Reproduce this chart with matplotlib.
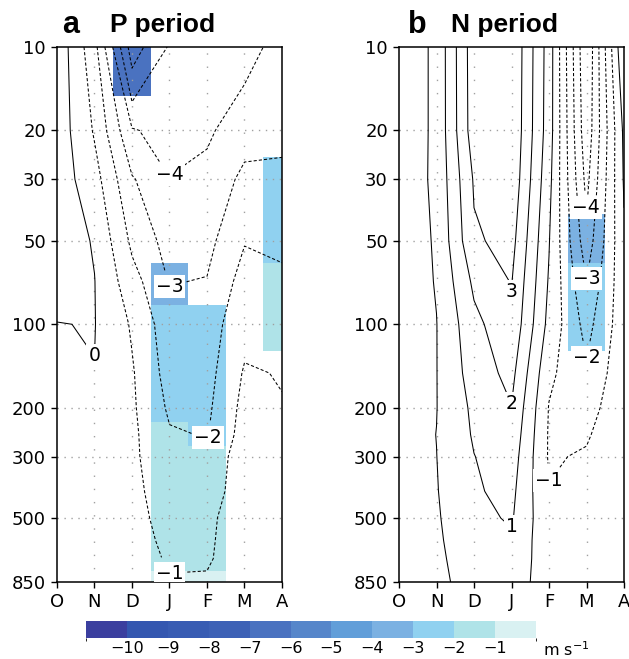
import numpy as np
import matplotlib
matplotlib.use('Agg')
import matplotlib.pyplot as plt
import matplotlib.cm as cm
from matplotlib.colors import ListedColormap, BoundaryNorm
from matplotlib.ticker import NullLocator

months = ['O', 'N', 'D', 'J', 'F', 'M', 'A']
levels = [10, 20, 30, 50, 70, 100, 150, 200, 250, 300, 400, 500, 600, 700, 850]
ytick_vals = [10, 20, 30, 50, 100, 200, 300, 500, 850]

# zonal wind anomaly (m/s), rows = pressure levels, cols = months
u_p = [
    [0.7, -1.66, -6.5, -4.9, -4.7, -4.4, -3.6],
    [0.6, -1.1, -3.9, -4.4, -4.2, -3.3, -3.2],
    [0.55, -0.6, -2.9, -3.95, -3.6, -2.8, -2.8],
    [0.5, -0.07, -2.2, -3.4, -3.3, -2.05, -2.2],
    [0.3, 0.02, -1.6, -3.05, -2.95, -1.6, -1.8],
    [-0.02, 0.03, -1.1, -2.6, -2.5, -1.3, -1.4],
    [-0.2, -0.02, -0.9, -2.4, -2.35, -0.9, -1.05],
    [-0.25, -0.2, -0.85, -2.15, -2.2, -0.7, -0.95],
    [-0.3, -0.25, -0.8, -1.9, -2.05, -0.6, -0.85],
    [-0.3, -0.3, -0.8, -1.75, -1.85, -0.35, -0.75],
    [-0.3, -0.35, -0.7, -1.6, -1.6, -0.35, -0.7],
    [-0.3, -0.35, -0.6, -1.45, -1.25, -0.35, -0.6],
    [-0.25, -0.3, -0.5, -1.3, -1.2, -0.3, -0.5],
    [-0.2, -0.25, -0.4, -1.15, -1.15, -0.25, -0.4],
    [-0.1, -0.2, -0.3, -0.9, -0.85, -0.2, -0.3],
]
sig_p = [
    [0, 0, 1, 0, 0, 0, 0],
    [0, 0, 0, 0, 0, 0, 0],
    [0, 0, 0, 0, 0, 0, 1],
    [0, 0, 0, 0, 0, 0, 1],
    [0, 0, 0, 1, 0, 0, 1],
    [0, 0, 0, 1, 1, 0, 1],
    [0, 0, 0, 1, 1, 0, 0],
    [0, 0, 0, 1, 1, 0, 0],
    [0, 0, 0, 1, 1, 0, 0],
    [0, 0, 0, 1, 1, 0, 0],
    [0, 0, 0, 1, 1, 0, 0],
    [0, 0, 0, 1, 1, 0, 0],
    [0, 0, 0, 1, 1, 0, 0],
    [0, 0, 0, 1, 1, 0, 0],
    [0, 0, 0, 1, 1, 0, 0],
]
u_n = [
    [-0.7, 0.2, 3.6, 3.95, 0.55, -4.95, 0.95],
    [-0.7, 0.2, 3.55, 3.9, 0.5, -4.7, 0.2],
    [-0.65, 0.2, 3.1, 3.75, 0.3, -4.3, 0.1],
    [-0.6, 0.1, 2.85, 3.35, 0.05, -3.6, -0.15],
    [-0.55, 0.05, 2.2, 3.05, -0.1, -2.95, -0.3],
    [-0.5, -0.02, 1.7, 2.8, -0.3, -2.35, -0.4],
    [-0.5, -0.02, 1.45, 2.3, -0.8, -1.8, -0.35],
    [-0.45, -0.02, 1.2, 1.95, -1.05, -1.4, -0.3],
    [-0.45, 0.01, 1.1, 1.7, -1.1, -1.1, -0.3],
    [-0.45, -0.01, 0.98, 1.5, -1.1, -0.9, -0.3],
    [-0.45, -0.05, 0.9, 1.25, -0.95, -0.7, -0.3],
    [-0.45, -0.1, 0.75, 1.1, -0.8, -0.55, -0.3],
    [-0.45, -0.15, 0.65, 0.85, -0.7, -0.45, -0.25],
    [-0.4, -0.2, 0.55, 0.7, -0.6, -0.4, -0.25],
    [-0.4, -0.3, 0.5, 0.5, -0.5, -0.3, -0.2],
]
sig_n = [
    [0, 0, 0, 0, 0, 0, 0],
    [0, 0, 0, 0, 0, 0, 0],
    [0, 0, 0, 0, 0, 0, 0],
    [0, 0, 0, 0, 0, 1, 0],
    [0, 0, 0, 0, 0, 1, 0],
    [0, 0, 0, 0, 0, 1, 0],
    [0, 0, 0, 0, 0, 0, 0],
    [0, 0, 0, 0, 0, 0, 0],
    [0, 0, 0, 0, 0, 0, 0],
    [0, 0, 0, 0, 0, 0, 0],
    [0, 0, 0, 0, 0, 0, 0],
    [0, 0, 0, 0, 0, 0, 0],
    [0, 0, 0, 0, 0, 0, 0],
    [0, 0, 0, 0, 0, 0, 0],
    [0, 0, 0, 0, 0, 0, 0],
]

shade_colors = ['#3b3f9f', '#3457b0', '#385cb3', '#3d61b6', '#4a72c0', '#5686ca',
                '#619ed9', '#7bb1e2', '#90d1f0', '#afe3e8', '#d9f1f2']
shade_bounds = list(range(-11, 1))
cbar_ticks = list(range(-10, 0))

cmap = ListedColormap(shade_colors)
norm = BoundaryNorm(shade_bounds, cmap.N)

x = np.arange(len(months))
p = np.array(levels, dtype=float)
xe = np.arange(len(months) + 1) - 0.5
pe = np.concatenate([[p[0]], (p[1:] + p[:-1]) / 2, [p[-1]]])


def fmt(v):
    return f'{v:.0f}'.replace('-', '\u2212')


def panel(ax, u, sig, neg_lv, pos_lv, neg_pts, pos_pts):
    u = np.array(u)
    sig = np.array(sig)
    ax.set_yscale('log')
    ax.set_ylim(850, 10)
    ax.set_xlim(0, 6)
    ax.pcolormesh(xe, pe, np.ma.masked_where(sig == 0, u), cmap=cmap, norm=norm, zorder=1)

    for m in range(1, 6):
        ax.axvline(m, color='#a0a0a0', lw=1, ls=(0, (1, 8.5)), zorder=2)
    for v in ytick_vals[1:-1]:
        ax.axhline(v, color='#a0a0a0', lw=1, ls=(0, (1, 4)), zorder=2)

    cn = ax.contour(x, p, u, levels=neg_lv, colors='k', linewidths=0.75, zorder=3)
    cn.set_linestyle((0, (3, 2)))
    cp = ax.contour(x, p, u, levels=pos_lv, colors='k', linewidths=0.75, zorder=3)

    # label placement: nearest contour to each point
    labs = []
    if neg_pts:
        labs += ax.clabel(cn, manual=neg_pts, inline=True, inline_spacing=4, fmt=fmt, fontsize=13.5)
    if pos_pts:
        labs += ax.clabel(cp, manual=pos_pts, inline=True, inline_spacing=4, fmt=fmt, fontsize=13.5)
    for t in labs:
        t.set_rotation(0)
        t.set_bbox(dict(facecolor='white', edgecolor='none', pad=1.5))
        t.set_zorder(4)

    ax.set_xticks(x)
    ax.set_xticklabels(months)
    ax.set_yticks(ytick_vals)
    ax.set_yticklabels([str(v) for v in ytick_vals])
    ax.yaxis.set_minor_locator(NullLocator())
    ax.tick_params(direction='out', length=4, width=1, labelsize=13, pad=4)
    for s in ax.spines.values():
        s.set_linewidth(1.1)


fig = plt.figure(figsize=(6.29, 6.59), dpi=100)
ax1 = fig.add_axes([57 / 629, 1 - 582 / 659, 225 / 629, 535 / 659])
ax2 = fig.add_axes([399 / 629, 1 - 582 / 659, 225 / 629, 535 / 659])

panel(ax1, u_p, sig_p, [-7, -6, -5, -4, -3, -2, -1], [0, 1, 2, 3],
      [(3.0, 30), (3.0, 74), (4.0, 255), (3.0, 790)],
      [(1.0, 135)])
panel(ax2, u_n, sig_n, [-5, -4, -3, -2, -1], [0, 1, 2, 3, 4],
      [(5.0, 38), (5.0, 70), (5.0, 134), (4.1, 380)],
      [(3.0, 76), (3.0, 193), (3.0, 535)])

fig.text(62 / 629, 1 - 25 / 659, 'a', fontsize=22, fontweight='bold',
         family='Liberation Sans', va='center')
fig.text(110 / 629, 1 - 25 / 659, 'P period', fontsize=19, fontweight='bold',
         family='Liberation Sans', va='center')
fig.text(408 / 629, 1 - 25 / 659, 'b', fontsize=22, fontweight='bold',
         family='Liberation Sans', va='center')
fig.text(451 / 629, 1 - 25 / 659, 'N period', fontsize=19, fontweight='bold',
         family='Liberation Sans', va='center')

cax = fig.add_axes([86 / 629, 1 - 638 / 659, 450 / 629, 17 / 659])
cb = fig.colorbar(cm.ScalarMappable(norm=norm, cmap=cmap), cax=cax,
                  orientation='horizontal', ticks=cbar_ticks)
cb.outline.set_visible(False)
cax.tick_params(length=0, labelsize=11.5, pad=2)
fig.text(543 / 629, 1 - 650 / 659, 'm s$^{-1}$', fontsize=11.5, va='center')

fig.savefig('out.png', dpi=100)
